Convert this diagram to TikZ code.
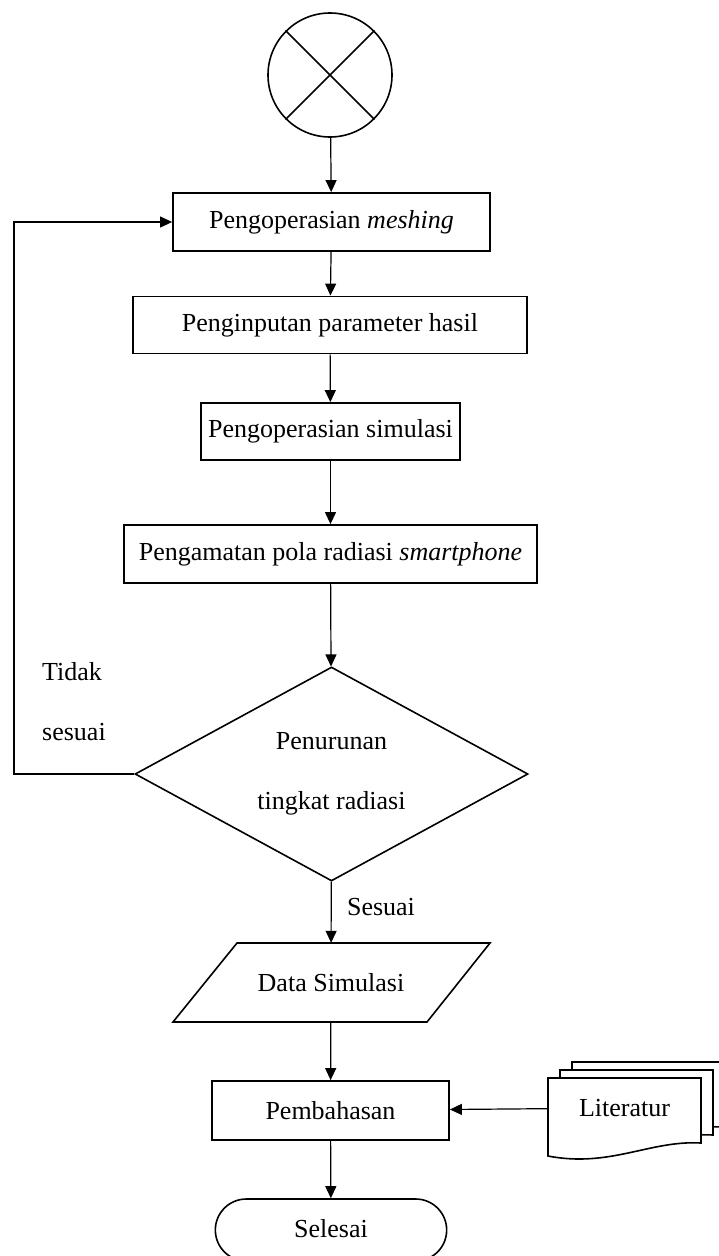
\documentclass[tikz,border=0pt]{standalone}
\usepackage{fontspec}
\setmainfont{Liberation Serif}
\usetikzlibrary{arrows.meta,shapes.geometric,shapes.misc}
\tikzset{
  proses/.style={draw,line width=1.8pt,rectangle,minimum height=58pt,inner sep=0pt},
  keputusan/.style={draw,line width=1.6pt,diamond,shape aspect=1.85,minimum width=393pt,minimum height=213pt,inner sep=0pt,align=center},
  terminal/.style={draw,line width=1.6pt,rounded rectangle,minimum width=238pt,minimum height=62pt},
  dokumen/.style={draw,line width=1.6pt,fill=white},
  panah/.style={-{Triangle[length=12pt,width=11pt]},line width=1.2pt}
}
\begin{document}
\begin{tikzpicture}[x=1pt,y=-1pt,font=\fontsize{26}{31}\selectfont]
      \useasboundingbox (0,0) rectangle (719,1256);
      \draw
        (330,75) node[draw,circle,line width=1.6pt,minimum size=124pt] (mulai){}
        (331.5,222) node[proses,minimum width=317pt] (meshing){Pengoperasian \textit{meshing}}
        (330,325) node[proses,minimum width=394pt,minimum height=57pt] (input){Penginputan parameter hasil}
        (330.5,431.5) node[proses,minimum width=259pt,minimum height=57pt] (simulasi){Pengoperasian simulasi}
        (330.5,554) node[proses,minimum width=413pt] (amati){Pengamatan pola radiasi \textit{smartphone}}
        (331.5,774) node[keputusan,minimum height=214pt] (turun){Penurunan\\[29pt]tingkat radiasi}
        (331,982.5) node[minimum width=150pt,minimum height=79pt,inner sep=0pt] (data){Data Simulasi}
        (330.5,1110.5) node[proses,minimum width=237pt,minimum height=59pt] (bahas){Pembahasan}
        (331,1230) node[terminal] (selesai){\raisebox{3pt}{Selesai}}
        (624.5,1108) node[minimum width=153pt,inner sep=0pt] (literatur){Literatur}
        (42,672) node[anchor=west,inner sep=0pt] (tidak){Tidak}
        (42,732) node[anchor=west,inner sep=0pt] (tdksesuai){sesuai}
        (381,907) node (sesuai){Sesuai};
      \coordinate (kiri) at (14,500);
      % silang pada simbol mulai
      \draw[line width=1.6pt] (mulai.north west) -- (mulai.south east);
      \draw[line width=1.6pt] (mulai.north east) -- (mulai.south west);
      % data (jajaran genjang)
      \draw[line width=1.6pt] (237,943) -- (490,943) -- (427,1022) -- (173,1022) -- cycle;
      % literatur (multi dokumen)
      \foreach \dx/\dy in {24/-16,12/-8,0/0}
        \draw[dokumen,shift={(\dx,\dy)}] (548,1078) -- (701,1078) -- (701,1143)
          .. controls (650,1140) and (610,1168) .. (548,1156) -- cycle;
      \node at (literatur) {Literatur};
      \begin{scope}[panah]
        \draw (mulai) to (meshing);
        \draw (meshing) to (input);
        \draw (input) to (simulasi);
        \draw (simulasi) to (amati);
        \draw (amati) to (turun);
        \draw (turun) to (data);
        \draw (data) to (bahas);
        \draw (bahas) to (selesai);
        \draw (literatur) to (bahas);
        \draw (turun.west) -| (kiri) |- (meshing.west);
      \end{scope}
    \end{tikzpicture}
\end{document}
